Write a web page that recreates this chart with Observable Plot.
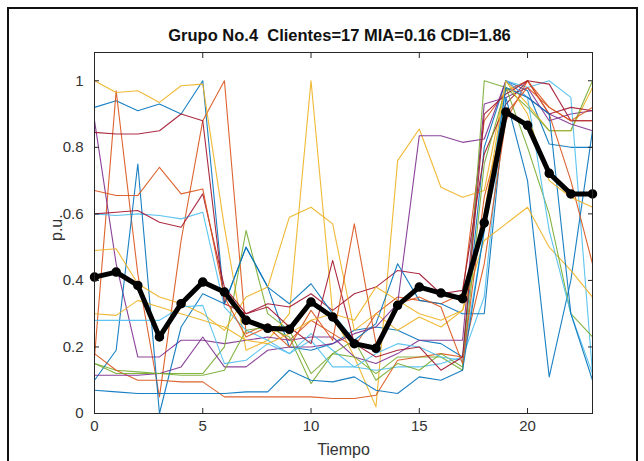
<!DOCTYPE html>
<html>
<head>
<meta charset="utf-8">
<script src="https://cdn.jsdelivr.net/npm/d3@7"></script>
<script src="https://cdn.jsdelivr.net/npm/@observablehq/plot@0.6"></script>
<style>
  html, body { margin: 0; padding: 0; background: #fff; }
  #wrap { position: relative; width: 644px; height: 461px; overflow: hidden; }
  #border { position: absolute; left: 7px; top: 7px; width: 627px; height: 480px; border: 2px solid #111; pointer-events: none; }
</style>
</head>
<body>
<div id="wrap"><div id="border"></div></div>
<script>
const tiempo = d3.range(0, 24);
const xTicks = [0, 5, 10, 15, 20];
const yTicks = [0, 0.2, 0.4, 0.6, 0.8, 1];
const yTickLabels = ["0", "0.2", "0.4", "0.6", "0.8", "1"];
const titulo = "Grupo No.4  Clientes=17 MIA=0.16 CDI=1.86";
const etiquetaX = "Tiempo";
const etiquetaY = "p.u.";

const cliente1  = [0.92,0.94,0.91,0.93,0.90,1.00,0.33,0.50,0.38,0.20,0.19,0.21,0.25,0.26,0.25,0.22,0.21,0.17,0.80,1.00,0.97,0.81,0.80,0.80];
const cliente2  = [0.17,0.97,0.42,0.05,0.52,0.88,1.00,0.24,0.27,0.22,0.28,0.24,0.20,0.30,0.35,0.34,0.33,0.36,0.88,0.97,1.00,0.92,0.88,0.88];
const cliente3  = [1.00,0.965,0.97,0.935,0.985,0.99,0.56,0.19,0.22,0.30,1.00,0.30,0.17,0.02,0.76,0.855,0.68,0.65,0.67,1.00,0.93,0.85,0.85,0.98];
const cliente4  = [0.88,0.45,0.17,0.17,0.22,0.22,0.21,0.22,0.23,0.22,0.23,0.23,0.17,0.15,0.18,0.22,0.22,0.22,0.93,0.95,0.98,0.88,0.90,0.91];
const cliente5  = [0.15,0.13,0.125,0.12,0.12,0.12,0.20,0.55,0.30,0.25,0.12,0.18,0.17,0.12,0.17,0.17,0.17,0.13,1.00,0.98,0.92,0.85,0.85,1.00];
const cliente6  = [0.60,0.595,0.60,0.595,0.585,0.605,0.32,0.25,0.22,0.18,0.24,0.19,0.14,0.13,0.14,0.14,0.15,0.17,0.35,1.00,0.98,1.00,0.95,0.12];
const cliente7  = [0.845,0.84,0.84,0.85,0.90,0.88,0.33,0.30,0.33,0.32,0.36,0.31,0.36,0.38,0.43,0.42,0.36,0.37,0.78,0.93,1.00,0.90,0.92,0.91];
const cliente8  = [0.10,0.19,0.75,0.00,0.26,0.36,0.33,0.50,0.38,0.33,0.39,0.30,0.22,0.27,0.45,0.34,0.33,0.30,0.30,0.95,0.70,0.11,0.40,0.85];
const cliente9  = [0.18,0.13,0.10,0.10,0.095,0.095,0.05,0.05,0.05,0.05,0.05,0.045,0.045,0.055,0.16,0.17,0.18,0.17,0.45,0.88,1.00,0.90,0.70,0.45];
const cliente10 = [0.49,0.495,0.39,0.35,0.33,0.30,0.25,0.35,0.38,0.59,0.62,0.57,0.25,0.30,0.25,0.29,0.26,0.31,0.52,0.57,0.62,0.50,0.43,0.35];
const cliente11 = [0.115,0.115,0.115,0.12,0.14,0.23,0.14,0.14,0.19,0.20,0.20,0.21,0.24,0.26,0.33,0.835,0.835,0.815,0.825,1.00,0.95,0.90,0.87,0.85];
const cliente12 = [0.15,0.12,0.12,0.12,0.115,0.115,0.13,0.25,0.26,0.23,0.09,0.18,0.22,0.10,0.15,0.13,0.18,0.14,0.75,0.98,0.80,0.60,0.30,0.23];
const cliente13 = [0.28,0.28,0.28,0.28,0.32,0.325,0.15,0.16,0.21,0.18,0.22,0.14,0.14,0.18,0.21,0.20,0.17,0.16,0.55,1.00,0.95,0.55,0.30,0.12];
const cliente14 = [0.60,0.605,0.61,0.575,0.56,0.66,0.38,0.30,0.32,0.26,0.21,0.46,0.21,0.17,0.19,0.20,0.13,0.17,0.90,0.96,1.00,0.99,0.88,0.88];
const cliente15 = [0.07,0.065,0.06,0.06,0.06,0.06,0.06,0.065,0.065,0.13,0.10,0.095,0.11,0.07,0.06,0.11,0.10,0.13,0.55,0.98,0.95,0.90,0.30,0.10];
const cliente16 = [0.67,0.655,0.655,0.74,0.66,0.675,0.35,0.23,0.26,0.20,0.31,0.22,0.57,0.21,0.33,0.35,0.32,0.15,0.65,0.90,0.98,0.92,0.88,0.92];
const cliente17 = [0.30,0.295,0.34,0.32,0.30,0.28,0.26,0.22,0.21,0.24,0.28,0.30,0.28,0.38,0.34,0.30,0.28,0.31,0.60,1.00,0.90,0.70,0.65,0.62];
const centroide = [0.41,0.425,0.385,0.23,0.33,0.395,0.365,0.28,0.256,0.253,0.335,0.29,0.21,0.196,0.325,0.38,0.362,0.345,0.573,0.906,0.866,0.722,0.66,0.66];

const clientes = [cliente1,cliente2,cliente3,cliente4,cliente5,cliente6,cliente7,cliente8,cliente9,cliente10,cliente11,cliente12,cliente13,cliente14,cliente15,cliente16,cliente17];
const paleta = ["#0072BD","#D95319","#EDB120","#7E2F8E","#77AC30","#4DBEEE","#A2142F"];

const lineMarks = clientes.map((serie, i) =>
  Plot.line(tiempo, {x: t => t, y: t => serie[t], stroke: paleta[i % paleta.length], strokeWidth: 1.1, strokeOpacity: 0.9})
);

const chart = Plot.plot({
  width: 644,
  height: 461,
  marginLeft: 94,
  marginRight: 52,
  marginTop: 52,
  marginBottom: 48,
  style: {fontFamily: "'Liberation Sans', Arial, Helvetica, sans-serif", fontSize: "15px", color: "#262626", background: "transparent"},
  x: {domain: [0, 23], axis: null},
  y: {domain: [0, 1.085], axis: null},
  marks: [
    ...lineMarks,
    Plot.line(tiempo, {x: t => t, y: t => centroide[t], stroke: "#000", strokeWidth: 5, strokeLinejoin: "round"}),
    Plot.dot(tiempo, {x: t => t, y: t => centroide[t], r: 4, fill: "#000", stroke: "#000"}),
    Plot.frame({stroke: "#262626", strokeWidth: 1}),
    Plot.axisX(xTicks, {anchor: "bottom", tickSize: -5, tickPadding: 12, stroke: "#262626", fill: "#333", label: null}),
    Plot.axisX(xTicks, {anchor: "top", tickSize: -5, tickFormat: () => "", stroke: "#262626", label: null}),
    Plot.axisY(yTicks, {anchor: "left", tickSize: -5, tickPadding: 16, tickFormat: (d, i) => yTickLabels[i], stroke: "#262626", fill: "#333", label: null}),
    Plot.axisY(yTicks, {anchor: "right", tickSize: -5, tickFormat: () => "", stroke: "#262626", label: null}),
    Plot.text([titulo], {frameAnchor: "top", dy: -23, dx: -4, fontWeight: "bold", fontSize: 16.5, fill: "#111"}),
    Plot.text([etiquetaX], {frameAnchor: "bottom", dy: 41, fontSize: 16, fill: "#333"}),
    Plot.text([etiquetaY], {frameAnchor: "left", dx: -38, dy: 8, rotate: -90, fontSize: 16, fill: "#333"})
  ]
});
document.getElementById("wrap").prepend(chart);
</script>
</body>
</html>
